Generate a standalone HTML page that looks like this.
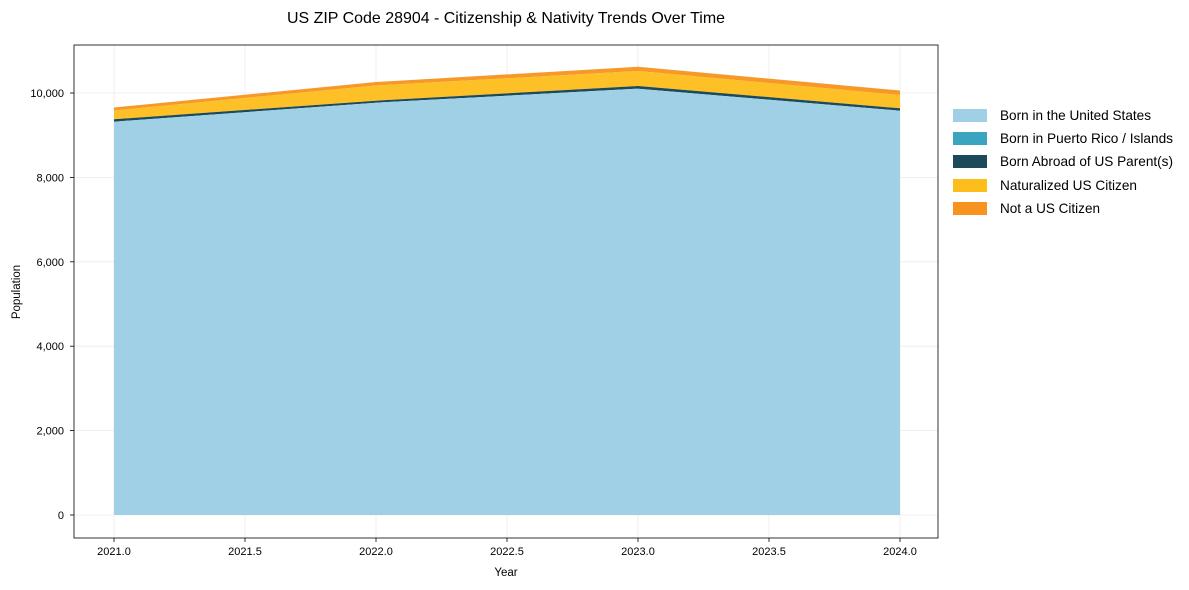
<!DOCTYPE html>
<html><head><meta charset="utf-8"><style>
body{margin:0;background:#fff;}
svg{display:block;font-family:"Liberation Sans",Arial,sans-serif;}
</style></head><body>
<svg width="1189" height="590" viewBox="0 0 1189 590">
<rect width="1189" height="590" fill="#fff"/>
<text x="506" y="23" font-size="16" text-anchor="middle" fill="#000" textLength="438" lengthAdjust="spacingAndGlyphs">US ZIP Code 28904 - Citizenship &amp; Nativity Trends Over Time</text>
<g stroke="#ebebeb" stroke-width="0.8">
<line x1="114" y1="45" x2="114" y2="538"/><line x1="245" y1="45" x2="245" y2="538"/><line x1="376" y1="45" x2="376" y2="538"/><line x1="507" y1="45" x2="507" y2="538"/><line x1="638" y1="45" x2="638" y2="538"/><line x1="769" y1="45" x2="769" y2="538"/><line x1="900" y1="45" x2="900" y2="538"/>
<line x1="74" y1="515" x2="938" y2="515"/><line x1="74" y1="430.6" x2="938" y2="430.6"/><line x1="74" y1="346.2" x2="938" y2="346.2"/><line x1="74" y1="261.8" x2="938" y2="261.8"/><line x1="74" y1="177.4" x2="938" y2="177.4"/><line x1="74" y1="93" x2="938" y2="93"/>
</g>
<polygon fill="#f7931e" opacity="0.95" points="114,107.5 376,82 638,66.8 900,90.5 900,95 638,71 376,85.5 114,110.5"/>
<polygon fill="#fdbd1a" opacity="0.95" points="114,110.5 376,85.5 638,71 900,95 900,108.3 638,86 376,100.7 114,119.3"/>
<polygon fill="#1d4a5a" points="114,119.3 376,100.7 638,86 900,108.3 900,110.7 638,88.7 376,102.7 114,121.7"/>
<polygon fill="#9fd0e6" points="114,121.7 376,102.7 638,88.7 900,110.7 900,515 114,515"/>
<rect x="74" y="45" width="864" height="493" fill="none" stroke="#000" stroke-width="0.8"/>
<g font-size="11" fill="#000" text-anchor="end">
<text x="64" y="519">0</text><text x="64" y="434.6">2,000</text><text x="64" y="350.2">4,000</text><text x="64" y="265.8">6,000</text><text x="64" y="181.4">8,000</text><text x="64" y="97">10,000</text>
</g>
<g stroke="#000" stroke-width="0.8">
<line x1="70" y1="515" x2="74" y2="515"/><line x1="70" y1="430.6" x2="74" y2="430.6"/><line x1="70" y1="346.2" x2="74" y2="346.2"/><line x1="70" y1="261.8" x2="74" y2="261.8"/><line x1="70" y1="177.4" x2="74" y2="177.4"/><line x1="70" y1="93" x2="74" y2="93"/>
<line x1="114" y1="538" x2="114" y2="542"/><line x1="245" y1="538" x2="245" y2="542"/><line x1="376" y1="538" x2="376" y2="542"/><line x1="507" y1="538" x2="507" y2="542"/><line x1="638" y1="538" x2="638" y2="542"/><line x1="769" y1="538" x2="769" y2="542"/><line x1="900" y1="538" x2="900" y2="542"/>
</g>
<g font-size="11" fill="#000" text-anchor="middle">
<text x="114" y="555">2021.0</text><text x="245" y="555">2021.5</text><text x="376" y="555">2022.0</text><text x="507" y="555">2022.5</text><text x="638" y="555">2023.0</text><text x="769" y="555">2023.5</text><text x="900" y="555">2024.0</text>
<text x="506" y="576" font-size="11.5">Year</text>
</g>
<text transform="translate(20,292) rotate(-90)" font-size="11.5" text-anchor="middle">Population</text>
<g>
<rect x="953" y="109" width="34" height="13" fill="#9fd0e6"/>
<rect x="953" y="132" width="34" height="13" fill="#3aa4c1"/>
<rect x="953" y="155" width="34" height="13" fill="#1d4a5a"/>
<rect x="953" y="179" width="34" height="13" fill="#fdbd1a"/>
<rect x="953" y="202" width="34" height="13" fill="#f7931e"/>
</g>
<g font-size="14" fill="#000">
<text x="1000" y="120" textLength="151" lengthAdjust="spacingAndGlyphs">Born in the United States</text>
<text x="1000" y="143" textLength="173" lengthAdjust="spacingAndGlyphs">Born in Puerto Rico / Islands</text>
<text x="1000" y="166" textLength="173" lengthAdjust="spacingAndGlyphs">Born Abroad of US Parent(s)</text>
<text x="1000" y="190" textLength="137" lengthAdjust="spacingAndGlyphs">Naturalized US Citizen</text>
<text x="1000" y="213" textLength="100" lengthAdjust="spacingAndGlyphs">Not a US Citizen</text>
</g>
</svg>
</body></html>
